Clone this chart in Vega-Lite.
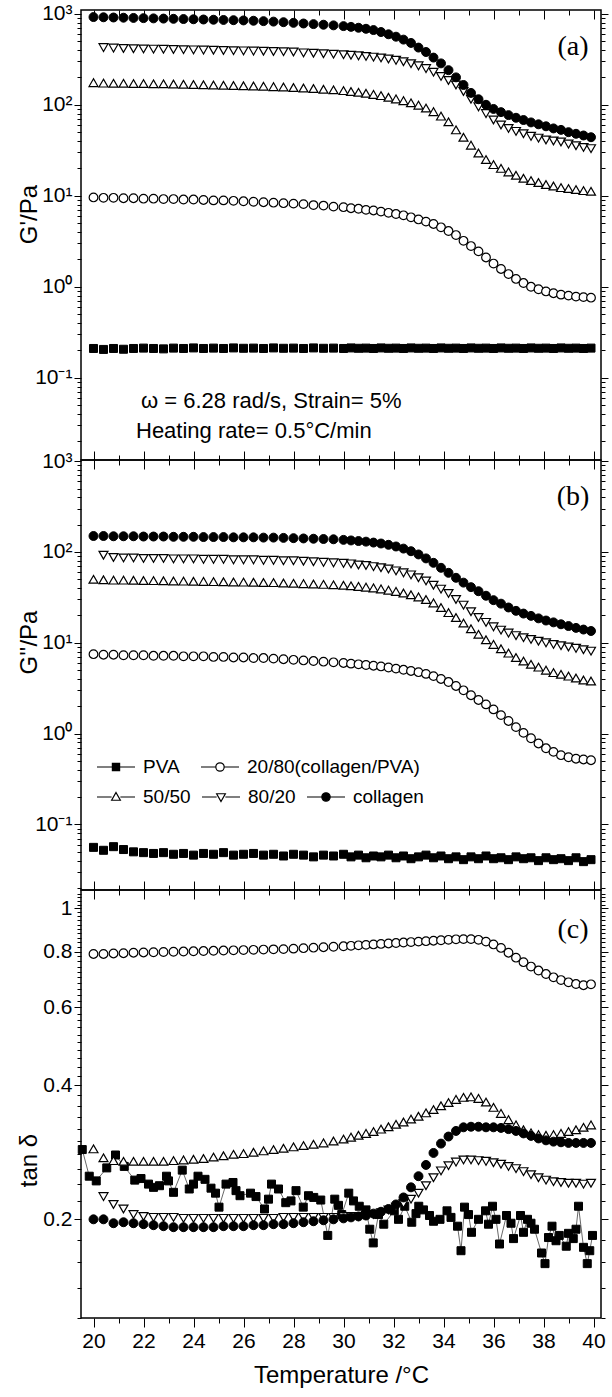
{
"$schema": "https://vega.github.io/schema/vega-lite/v6.json",
"background": "white",
"padding": {"left": 16, "top": 2, "right": 5, "bottom": 5},
"spacing": 0,
"bounds": "flush",
"config": {
  "view": {"stroke": "black", "strokeWidth": 1.5},
  "font": "Liberation Sans",
  "axis": {"domain": false, "grid": false, "tickColor": "black", "tickWidth": 1, "labelColor": "black", "labelFont": "Liberation Sans", "labelFontSize": 21, "labelPadding": 2, "labelOverlap": false, "labelFlush": false, "titleFont": "Liberation Sans", "titleFontSize": 24, "titleFontWeight": "normal", "titleColor": "black"}
},
"resolve": {"scale": {"shape": "independent", "fill": "independent", "stroke": "independent"}, "legend": {"shape": "independent", "fill": "independent", "stroke": "independent"}},
"datasets": {
  "aP": [{"t":20.0,"v":0.21},{"t":20.4,"v":0.205},{"t":20.8,"v":0.21},{"t":21.2,"v":0.206},{"t":21.6,"v":0.21},{"t":22.0,"v":0.212},{"t":22.4,"v":0.21},{"t":22.8,"v":0.208},{"t":23.2,"v":0.212},{"t":23.6,"v":0.21},{"t":24.0,"v":0.213},{"t":24.4,"v":0.21},{"t":24.8,"v":0.212},{"t":25.2,"v":0.21},{"t":25.6,"v":0.213},{"t":26.0,"v":0.211},{"t":26.4,"v":0.212},{"t":26.8,"v":0.21},{"t":27.2,"v":0.213},{"t":27.6,"v":0.211},{"t":28.0,"v":0.212},{"t":28.4,"v":0.21},{"t":28.8,"v":0.213},{"t":29.2,"v":0.211},{"t":29.6,"v":0.212},{"t":30.0,"v":0.21},{"t":30.3,"v":0.213},{"t":30.6,"v":0.211},{"t":30.9,"v":0.212},{"t":31.2,"v":0.21},{"t":31.5,"v":0.213},{"t":31.8,"v":0.211},{"t":32.1,"v":0.212},{"t":32.4,"v":0.21},{"t":32.7,"v":0.213},{"t":33.0,"v":0.211},{"t":33.3,"v":0.212},{"t":33.6,"v":0.21},{"t":33.9,"v":0.213},{"t":34.2,"v":0.211},{"t":34.5,"v":0.212},{"t":34.8,"v":0.21},{"t":35.1,"v":0.213},{"t":35.4,"v":0.211},{"t":35.7,"v":0.212},{"t":36.0,"v":0.21},{"t":36.3,"v":0.213},{"t":36.6,"v":0.211},{"t":36.9,"v":0.212},{"t":37.2,"v":0.21},{"t":37.5,"v":0.213},{"t":37.8,"v":0.211},{"t":38.1,"v":0.212},{"t":38.4,"v":0.21},{"t":38.7,"v":0.213},{"t":39.0,"v":0.211},{"t":39.3,"v":0.212},{"t":39.6,"v":0.21},{"t":39.9,"v":0.212}],
  "a2": [{"t":20.0,"v":9.6},{"t":20.4,"v":9.5},{"t":20.8,"v":9.5},{"t":21.2,"v":9.4},{"t":21.6,"v":9.4},{"t":22.0,"v":9.3},{"t":22.4,"v":9.3},{"t":22.8,"v":9.2},{"t":23.2,"v":9.2},{"t":23.6,"v":9.1},{"t":24.0,"v":9.1},{"t":24.4,"v":9.0},{"t":24.8,"v":8.9},{"t":25.2,"v":8.9},{"t":25.6,"v":8.8},{"t":26.0,"v":8.7},{"t":26.4,"v":8.6},{"t":26.8,"v":8.5},{"t":27.2,"v":8.4},{"t":27.6,"v":8.3},{"t":28.0,"v":8.2},{"t":28.4,"v":8.1},{"t":28.8,"v":7.9},{"t":29.2,"v":7.8},{"t":29.6,"v":7.6},{"t":30.0,"v":7.5},{"t":30.3,"v":7.3},{"t":30.6,"v":7.2},{"t":30.9,"v":7.0},{"t":31.2,"v":6.9},{"t":31.5,"v":6.7},{"t":31.8,"v":6.5},{"t":32.1,"v":6.3},{"t":32.4,"v":6.1},{"t":32.7,"v":5.8},{"t":33.0,"v":5.5},{"t":33.3,"v":5.2},{"t":33.6,"v":4.9},{"t":33.9,"v":4.5},{"t":34.2,"v":4.1},{"t":34.5,"v":3.7},{"t":34.8,"v":3.2},{"t":35.1,"v":2.8},{"t":35.4,"v":2.45},{"t":35.7,"v":2.1},{"t":36.0,"v":1.8},{"t":36.3,"v":1.57},{"t":36.6,"v":1.38},{"t":36.9,"v":1.22},{"t":37.2,"v":1.1},{"t":37.5,"v":1.0},{"t":37.8,"v":0.94},{"t":38.1,"v":0.89},{"t":38.4,"v":0.85},{"t":38.7,"v":0.82},{"t":39.0,"v":0.8},{"t":39.3,"v":0.78},{"t":39.6,"v":0.77},{"t":39.9,"v":0.76}],
  "a5": [{"t":20.0,"v":175},{"t":20.4,"v":173},{"t":20.8,"v":172},{"t":21.2,"v":172},{"t":21.6,"v":171},{"t":22.0,"v":171},{"t":22.4,"v":170},{"t":22.8,"v":170},{"t":23.2,"v":169},{"t":23.6,"v":168},{"t":24.0,"v":167},{"t":24.4,"v":166},{"t":24.8,"v":165},{"t":25.2,"v":164},{"t":25.6,"v":163},{"t":26.0,"v":162},{"t":26.4,"v":161},{"t":26.8,"v":160},{"t":27.2,"v":158},{"t":27.6,"v":157},{"t":28.0,"v":155},{"t":28.4,"v":153},{"t":28.8,"v":151},{"t":29.2,"v":148},{"t":29.6,"v":146},{"t":30.0,"v":143},{"t":30.3,"v":140},{"t":30.6,"v":137},{"t":30.9,"v":134},{"t":31.2,"v":130},{"t":31.5,"v":126},{"t":31.8,"v":121},{"t":32.1,"v":116},{"t":32.4,"v":111},{"t":32.7,"v":105},{"t":33.0,"v":99},{"t":33.3,"v":92},{"t":33.6,"v":84},{"t":33.9,"v":75},{"t":34.2,"v":65},{"t":34.5,"v":53},{"t":34.8,"v":44},{"t":35.1,"v":36},{"t":35.4,"v":29.5},{"t":35.7,"v":25},{"t":36.0,"v":22},{"t":36.3,"v":20},{"t":36.6,"v":18.3},{"t":36.9,"v":16.8},{"t":37.2,"v":15.6},{"t":37.5,"v":14.7},{"t":37.8,"v":14},{"t":38.1,"v":13.3},{"t":38.4,"v":12.8},{"t":38.7,"v":12.3},{"t":39.0,"v":12},{"t":39.3,"v":11.7},{"t":39.6,"v":11.4},{"t":39.9,"v":11.2}],
  "a8": [{"t":20.4,"v":425},{"t":20.8,"v":420},{"t":21.2,"v":415},{"t":21.6,"v":413},{"t":22.0,"v":411},{"t":22.4,"v":409},{"t":22.8,"v":407},{"t":23.2,"v":405},{"t":23.6,"v":403},{"t":24.0,"v":401},{"t":24.4,"v":399},{"t":24.8,"v":397},{"t":25.2,"v":395},{"t":25.6,"v":393},{"t":26.0,"v":391},{"t":26.4,"v":389},{"t":26.8,"v":387},{"t":27.2,"v":385},{"t":27.6,"v":383},{"t":28.0,"v":380},{"t":28.4,"v":372},{"t":28.8,"v":368},{"t":29.2,"v":364},{"t":29.6,"v":360},{"t":30.0,"v":355},{"t":30.3,"v":350},{"t":30.6,"v":345},{"t":30.9,"v":340},{"t":31.2,"v":334},{"t":31.5,"v":327},{"t":31.8,"v":318},{"t":32.1,"v":308},{"t":32.4,"v":297},{"t":32.7,"v":283},{"t":33.0,"v":268},{"t":33.3,"v":250},{"t":33.6,"v":228},{"t":33.9,"v":205},{"t":34.2,"v":185},{"t":34.5,"v":165},{"t":34.8,"v":140},{"t":35.1,"v":115},{"t":35.4,"v":95},{"t":35.7,"v":80},{"t":36.0,"v":68},{"t":36.3,"v":60},{"t":36.6,"v":55},{"t":36.9,"v":51},{"t":37.2,"v":48},{"t":37.5,"v":45},{"t":37.8,"v":43},{"t":38.1,"v":41},{"t":38.4,"v":40},{"t":38.7,"v":39},{"t":39.0,"v":37},{"t":39.3,"v":35.5},{"t":39.6,"v":34},{"t":39.9,"v":33}],
  "aC": [{"t":20.0,"v":920},{"t":20.4,"v":915},{"t":20.8,"v":910},{"t":21.2,"v":905},{"t":21.6,"v":900},{"t":22.0,"v":895},{"t":22.4,"v":890},{"t":22.8,"v":885},{"t":23.2,"v":880},{"t":23.6,"v":875},{"t":24.0,"v":870},{"t":24.4,"v":865},{"t":24.8,"v":860},{"t":25.2,"v":855},{"t":25.6,"v":850},{"t":26.0,"v":845},{"t":26.4,"v":838},{"t":26.8,"v":830},{"t":27.2,"v":820},{"t":27.6,"v":808},{"t":28.0,"v":795},{"t":28.4,"v":782},{"t":28.8,"v":770},{"t":29.2,"v":758},{"t":29.6,"v":746},{"t":30.0,"v":732},{"t":30.3,"v":718},{"t":30.6,"v":702},{"t":30.9,"v":684},{"t":31.2,"v":662},{"t":31.5,"v":630},{"t":31.8,"v":595},{"t":32.1,"v":560},{"t":32.4,"v":520},{"t":32.7,"v":478},{"t":33.0,"v":425},{"t":33.3,"v":380},{"t":33.6,"v":330},{"t":33.9,"v":285},{"t":34.2,"v":240},{"t":34.5,"v":200},{"t":34.8,"v":165},{"t":35.1,"v":135},{"t":35.4,"v":115},{"t":35.7,"v":100},{"t":36.0,"v":90},{"t":36.3,"v":83},{"t":36.6,"v":77},{"t":36.9,"v":72},{"t":37.2,"v":68},{"t":37.5,"v":64},{"t":37.8,"v":61},{"t":38.1,"v":58},{"t":38.4,"v":55},{"t":38.7,"v":53},{"t":39.0,"v":50},{"t":39.3,"v":48},{"t":39.6,"v":46},{"t":39.9,"v":44}],
  "bP": [{"t":20.0,"v":0.056},{"t":20.4,"v":0.052},{"t":20.8,"v":0.057},{"t":21.2,"v":0.053},{"t":21.6,"v":0.05},{"t":22.0,"v":0.049},{"t":22.4,"v":0.048},{"t":22.8,"v":0.049},{"t":23.2,"v":0.047},{"t":23.6,"v":0.048},{"t":24.0,"v":0.046},{"t":24.4,"v":0.048},{"t":24.8,"v":0.047},{"t":25.2,"v":0.049},{"t":25.6,"v":0.046},{"t":26.0,"v":0.047},{"t":26.4,"v":0.048},{"t":26.8,"v":0.046},{"t":27.2,"v":0.047},{"t":27.6,"v":0.045},{"t":28.0,"v":0.047},{"t":28.4,"v":0.046},{"t":28.8,"v":0.044},{"t":29.2,"v":0.046},{"t":29.6,"v":0.045},{"t":30.0,"v":0.047},{"t":30.3,"v":0.044},{"t":30.6,"v":0.046},{"t":30.9,"v":0.043},{"t":31.2,"v":0.045},{"t":31.5,"v":0.044},{"t":31.8,"v":0.046},{"t":32.1,"v":0.043},{"t":32.4,"v":0.045},{"t":32.7,"v":0.042},{"t":33.0,"v":0.044},{"t":33.3,"v":0.046},{"t":33.6,"v":0.043},{"t":33.9,"v":0.045},{"t":34.2,"v":0.042},{"t":34.5,"v":0.044},{"t":34.8,"v":0.041},{"t":35.1,"v":0.044},{"t":35.4,"v":0.042},{"t":35.7,"v":0.045},{"t":36.0,"v":0.042},{"t":36.3,"v":0.043},{"t":36.6,"v":0.041},{"t":36.9,"v":0.044},{"t":37.2,"v":0.042},{"t":37.5,"v":0.043},{"t":37.8,"v":0.04},{"t":38.1,"v":0.043},{"t":38.4,"v":0.041},{"t":38.7,"v":0.042},{"t":39.0,"v":0.04},{"t":39.3,"v":0.043},{"t":39.6,"v":0.039},{"t":39.9,"v":0.041}],
  "b2": [{"t":20.0,"v":7.5},{"t":20.4,"v":7.4},{"t":20.8,"v":7.4},{"t":21.2,"v":7.3},{"t":21.6,"v":7.3},{"t":22.0,"v":7.3},{"t":22.4,"v":7.2},{"t":22.8,"v":7.2},{"t":23.2,"v":7.2},{"t":23.6,"v":7.1},{"t":24.0,"v":7.1},{"t":24.4,"v":7.1},{"t":24.8,"v":7.0},{"t":25.2,"v":7.0},{"t":25.6,"v":6.9},{"t":26.0,"v":6.9},{"t":26.4,"v":6.8},{"t":26.8,"v":6.8},{"t":27.2,"v":6.7},{"t":27.6,"v":6.6},{"t":28.0,"v":6.5},{"t":28.4,"v":6.4},{"t":28.8,"v":6.3},{"t":29.2,"v":6.2},{"t":29.6,"v":6.1},{"t":30.0,"v":6.0},{"t":30.3,"v":5.9},{"t":30.6,"v":5.8},{"t":30.9,"v":5.7},{"t":31.2,"v":5.6},{"t":31.5,"v":5.5},{"t":31.8,"v":5.35},{"t":32.1,"v":5.2},{"t":32.4,"v":5.05},{"t":32.7,"v":4.9},{"t":33.0,"v":4.75},{"t":33.3,"v":4.55},{"t":33.6,"v":4.3},{"t":33.9,"v":4.0},{"t":34.2,"v":3.7},{"t":34.5,"v":3.35},{"t":34.8,"v":3.0},{"t":35.1,"v":2.65},{"t":35.4,"v":2.35},{"t":35.7,"v":2.1},{"t":36.0,"v":1.85},{"t":36.3,"v":1.6},{"t":36.6,"v":1.38},{"t":36.9,"v":1.18},{"t":37.2,"v":1.02},{"t":37.5,"v":0.89},{"t":37.8,"v":0.78},{"t":38.1,"v":0.69},{"t":38.4,"v":0.63},{"t":38.7,"v":0.58},{"t":39.0,"v":0.55},{"t":39.3,"v":0.53},{"t":39.6,"v":0.52},{"t":39.9,"v":0.51}],
  "b5": [{"t":20.0,"v":50},{"t":20.4,"v":49.5},{"t":20.8,"v":49},{"t":21.2,"v":49},{"t":21.6,"v":48.8},{"t":22.0,"v":48.6},{"t":22.4,"v":48.4},{"t":22.8,"v":48.2},{"t":23.2,"v":48},{"t":23.6,"v":47.8},{"t":24.0,"v":47.6},{"t":24.4,"v":47.4},{"t":24.8,"v":47.2},{"t":25.2,"v":47},{"t":25.6,"v":46.8},{"t":26.0,"v":46.6},{"t":26.4,"v":46.4},{"t":26.8,"v":46.2},{"t":27.2,"v":46},{"t":27.6,"v":45.6},{"t":28.0,"v":45.2},{"t":28.4,"v":44.8},{"t":28.8,"v":44.4},{"t":29.2,"v":44},{"t":29.6,"v":43.5},{"t":30.0,"v":43},{"t":30.3,"v":42.4},{"t":30.6,"v":41.8},{"t":30.9,"v":41},{"t":31.2,"v":40.2},{"t":31.5,"v":39.2},{"t":31.8,"v":38},{"t":32.1,"v":36.8},{"t":32.4,"v":35.4},{"t":32.7,"v":33.8},{"t":33.0,"v":32},{"t":33.3,"v":30},{"t":33.6,"v":27.5},{"t":33.9,"v":24.5},{"t":34.2,"v":21.5},{"t":34.5,"v":19},{"t":34.8,"v":16.5},{"t":35.1,"v":14.3},{"t":35.4,"v":12.4},{"t":35.7,"v":10.8},{"t":36.0,"v":9.6},{"t":36.3,"v":8.6},{"t":36.6,"v":7.7},{"t":36.9,"v":6.9},{"t":37.2,"v":6.3},{"t":37.5,"v":5.8},{"t":37.8,"v":5.4},{"t":38.1,"v":5},{"t":38.4,"v":4.7},{"t":38.7,"v":4.5},{"t":39.0,"v":4.3},{"t":39.3,"v":4.1},{"t":39.6,"v":3.9},{"t":39.9,"v":3.8}],
  "b8": [{"t":20.4,"v":92},{"t":20.8,"v":87},{"t":21.2,"v":86},{"t":21.6,"v":86},{"t":22.0,"v":85},{"t":22.4,"v":85},{"t":22.8,"v":85},{"t":23.2,"v":84},{"t":23.6,"v":84},{"t":24.0,"v":84},{"t":24.4,"v":83},{"t":24.8,"v":83},{"t":25.2,"v":83},{"t":25.6,"v":82},{"t":26.0,"v":82},{"t":26.4,"v":82},{"t":26.8,"v":81},{"t":27.2,"v":81},{"t":27.6,"v":80},{"t":28.0,"v":80},{"t":28.4,"v":79},{"t":28.8,"v":78},{"t":29.2,"v":77},{"t":29.6,"v":76},{"t":30.0,"v":75},{"t":30.3,"v":74},{"t":30.6,"v":72},{"t":30.9,"v":71},{"t":31.2,"v":69},{"t":31.5,"v":67},{"t":31.8,"v":65},{"t":32.1,"v":62},{"t":32.4,"v":59},{"t":32.7,"v":56},{"t":33.0,"v":52},{"t":33.3,"v":48},{"t":33.6,"v":43},{"t":33.9,"v":39},{"t":34.2,"v":35},{"t":34.5,"v":30},{"t":34.8,"v":26},{"t":35.1,"v":22},{"t":35.4,"v":19},{"t":35.7,"v":16.8},{"t":36.0,"v":15},{"t":36.3,"v":13.8},{"t":36.6,"v":12.8},{"t":36.9,"v":12},{"t":37.2,"v":11.4},{"t":37.5,"v":10.9},{"t":37.8,"v":10.4},{"t":38.1,"v":10},{"t":38.4,"v":9.6},{"t":38.7,"v":9.3},{"t":39.0,"v":9},{"t":39.3,"v":8.7},{"t":39.6,"v":8.4},{"t":39.9,"v":8.1}],
  "bC": [{"t":20.0,"v":150},{"t":20.4,"v":150},{"t":20.8,"v":149},{"t":21.2,"v":149},{"t":21.6,"v":149},{"t":22.0,"v":148},{"t":22.4,"v":148},{"t":22.8,"v":148},{"t":23.2,"v":147},{"t":23.6,"v":147},{"t":24.0,"v":147},{"t":24.4,"v":146},{"t":24.8,"v":146},{"t":25.2,"v":146},{"t":25.6,"v":145},{"t":26.0,"v":145},{"t":26.4,"v":145},{"t":26.8,"v":144},{"t":27.2,"v":144},{"t":27.6,"v":143},{"t":28.0,"v":142},{"t":28.4,"v":141},{"t":28.8,"v":140},{"t":29.2,"v":139},{"t":29.6,"v":138},{"t":30.0,"v":136},{"t":30.3,"v":134},{"t":30.6,"v":132},{"t":30.9,"v":130},{"t":31.2,"v":127},{"t":31.5,"v":124},{"t":31.8,"v":120},{"t":32.1,"v":115},{"t":32.4,"v":109},{"t":32.7,"v":102},{"t":33.0,"v":94},{"t":33.3,"v":85},{"t":33.6,"v":76},{"t":33.9,"v":67},{"t":34.2,"v":59},{"t":34.5,"v":52},{"t":34.8,"v":46},{"t":35.1,"v":41},{"t":35.4,"v":37},{"t":35.7,"v":33},{"t":36.0,"v":29.5},{"t":36.3,"v":27},{"t":36.6,"v":24.5},{"t":36.9,"v":22.5},{"t":37.2,"v":21},{"t":37.5,"v":19.8},{"t":37.8,"v":18.6},{"t":38.1,"v":17.6},{"t":38.4,"v":16.8},{"t":38.7,"v":16},{"t":39.0,"v":15.3},{"t":39.3,"v":14.6},{"t":39.6,"v":14},{"t":39.9,"v":13.5}],
  "cP": [{"t":19.55,"v":0.287},{"t":19.83,"v":0.25},{"t":20.11,"v":0.244},{"t":20.53,"v":0.261},{"t":20.88,"v":0.279},{"t":21.23,"v":0.263},{"t":21.65,"v":0.245},{"t":21.9,"v":0.247},{"t":22.2,"v":0.24},{"t":22.4,"v":0.236},{"t":22.64,"v":0.238},{"t":22.92,"v":0.25},{"t":23.0,"v":0.244},{"t":23.2,"v":0.23},{"t":23.55,"v":0.258},{"t":23.83,"v":0.234},{"t":24.0,"v":0.24},{"t":24.18,"v":0.25},{"t":24.46,"v":0.246},{"t":24.7,"v":0.235},{"t":24.88,"v":0.229},{"t":25.02,"v":0.213},{"t":25.3,"v":0.24},{"t":25.58,"v":0.242},{"t":25.7,"v":0.232},{"t":25.86,"v":0.226},{"t":26.28,"v":0.229},{"t":26.5,"v":0.225},{"t":26.84,"v":0.211},{"t":27.0,"v":0.222},{"t":27.12,"v":0.24},{"t":27.4,"v":0.234},{"t":27.69,"v":0.218},{"t":27.9,"v":0.22},{"t":28.1,"v":0.232},{"t":28.39,"v":0.213},{"t":28.6,"v":0.226},{"t":28.81,"v":0.224},{"t":29.09,"v":0.221},{"t":29.37,"v":0.184},{"t":29.65,"v":0.222},{"t":29.8,"v":0.215},{"t":29.93,"v":0.205},{"t":30.21,"v":0.229},{"t":30.4,"v":0.22},{"t":30.63,"v":0.214},{"t":30.9,"v":0.21},{"t":31.05,"v":0.19},{"t":31.19,"v":0.177},{"t":31.4,"v":0.205},{"t":31.61,"v":0.195},{"t":32.03,"v":0.209},{"t":32.2,"v":0.2},{"t":32.45,"v":0.214},{"t":32.73,"v":0.197},{"t":32.9,"v":0.206},{"t":33.01,"v":0.214},{"t":33.2,"v":0.21},{"t":33.44,"v":0.204},{"t":33.6,"v":0.198},{"t":33.86,"v":0.2},{"t":34.14,"v":0.209},{"t":34.3,"v":0.202},{"t":34.56,"v":0.193},{"t":34.7,"v":0.17},{"t":34.84,"v":0.213},{"t":35.0,"v":0.205},{"t":35.12,"v":0.187},{"t":35.4,"v":0.2},{"t":35.68,"v":0.209},{"t":35.8,"v":0.195},{"t":35.96,"v":0.214},{"t":36.1,"v":0.2},{"t":36.24,"v":0.176},{"t":36.52,"v":0.204},{"t":36.7,"v":0.196},{"t":36.8,"v":0.181},{"t":37.08,"v":0.204},{"t":37.2,"v":0.187},{"t":37.36,"v":0.2},{"t":37.5,"v":0.196},{"t":37.64,"v":0.19},{"t":37.92,"v":0.168},{"t":38.06,"v":0.159},{"t":38.2,"v":0.182},{"t":38.34,"v":0.193},{"t":38.5,"v":0.179},{"t":38.63,"v":0.184},{"t":38.91,"v":0.174},{"t":39.0,"v":0.186},{"t":39.19,"v":0.181},{"t":39.3,"v":0.19},{"t":39.4,"v":0.214},{"t":39.6,"v":0.173},{"t":39.75,"v":0.159},{"t":39.85,"v":0.17},{"t":39.96,"v":0.184}],
  "c2": [{"t":20.0,"v":0.79},{"t":20.4,"v":0.79},{"t":20.8,"v":0.792},{"t":21.2,"v":0.793},{"t":21.6,"v":0.795},{"t":22.0,"v":0.796},{"t":22.4,"v":0.797},{"t":22.8,"v":0.798},{"t":23.2,"v":0.799},{"t":23.6,"v":0.8},{"t":24.0,"v":0.801},{"t":24.4,"v":0.802},{"t":24.8,"v":0.803},{"t":25.2,"v":0.804},{"t":25.6,"v":0.805},{"t":26.0,"v":0.806},{"t":26.4,"v":0.807},{"t":26.8,"v":0.808},{"t":27.2,"v":0.809},{"t":27.6,"v":0.81},{"t":28.0,"v":0.812},{"t":28.4,"v":0.814},{"t":28.8,"v":0.816},{"t":29.2,"v":0.818},{"t":29.6,"v":0.82},{"t":30.0,"v":0.822},{"t":30.3,"v":0.824},{"t":30.6,"v":0.826},{"t":30.9,"v":0.828},{"t":31.2,"v":0.83},{"t":31.5,"v":0.832},{"t":31.8,"v":0.834},{"t":32.1,"v":0.836},{"t":32.4,"v":0.838},{"t":32.7,"v":0.84},{"t":33.0,"v":0.842},{"t":33.3,"v":0.844},{"t":33.6,"v":0.846},{"t":33.9,"v":0.848},{"t":34.2,"v":0.85},{"t":34.5,"v":0.852},{"t":34.8,"v":0.853},{"t":35.1,"v":0.853},{"t":35.4,"v":0.85},{"t":35.7,"v":0.842},{"t":36.0,"v":0.83},{"t":36.3,"v":0.815},{"t":36.6,"v":0.795},{"t":36.9,"v":0.775},{"t":37.2,"v":0.757},{"t":37.5,"v":0.74},{"t":37.8,"v":0.725},{"t":38.1,"v":0.712},{"t":38.4,"v":0.7},{"t":38.7,"v":0.69},{"t":39.0,"v":0.682},{"t":39.3,"v":0.676},{"t":39.6,"v":0.672},{"t":39.9,"v":0.675}],
  "c5": [{"t":20.0,"v":0.288},{"t":20.4,"v":0.275},{"t":20.8,"v":0.271},{"t":21.2,"v":0.27},{"t":21.6,"v":0.27},{"t":22.0,"v":0.27},{"t":22.4,"v":0.27},{"t":22.8,"v":0.27},{"t":23.2,"v":0.271},{"t":23.6,"v":0.272},{"t":24.0,"v":0.273},{"t":24.4,"v":0.274},{"t":24.8,"v":0.276},{"t":25.2,"v":0.278},{"t":25.6,"v":0.28},{"t":26.0,"v":0.281},{"t":26.4,"v":0.283},{"t":26.8,"v":0.285},{"t":27.2,"v":0.287},{"t":27.6,"v":0.289},{"t":28.0,"v":0.291},{"t":28.4,"v":0.293},{"t":28.8,"v":0.295},{"t":29.2,"v":0.297},{"t":29.6,"v":0.3},{"t":30.0,"v":0.303},{"t":30.3,"v":0.306},{"t":30.6,"v":0.309},{"t":30.9,"v":0.312},{"t":31.2,"v":0.315},{"t":31.5,"v":0.319},{"t":31.8,"v":0.323},{"t":32.1,"v":0.327},{"t":32.4,"v":0.331},{"t":32.7,"v":0.336},{"t":33.0,"v":0.341},{"t":33.3,"v":0.347},{"t":33.6,"v":0.353},{"t":33.9,"v":0.36},{"t":34.2,"v":0.366},{"t":34.5,"v":0.372},{"t":34.8,"v":0.376},{"t":35.1,"v":0.377},{"t":35.4,"v":0.374},{"t":35.7,"v":0.367},{"t":36.0,"v":0.357},{"t":36.3,"v":0.346},{"t":36.6,"v":0.335},{"t":36.9,"v":0.326},{"t":37.2,"v":0.318},{"t":37.5,"v":0.313},{"t":37.8,"v":0.31},{"t":38.1,"v":0.309},{"t":38.4,"v":0.31},{"t":38.7,"v":0.312},{"t":39.0,"v":0.315},{"t":39.3,"v":0.318},{"t":39.6,"v":0.322},{"t":39.9,"v":0.326}],
  "c8": [{"t":20.4,"v":0.225},{"t":20.8,"v":0.216},{"t":21.2,"v":0.211},{"t":21.6,"v":0.205},{"t":22.0,"v":0.203},{"t":22.4,"v":0.202},{"t":22.8,"v":0.202},{"t":23.2,"v":0.202},{"t":23.6,"v":0.201},{"t":24.0,"v":0.201},{"t":24.4,"v":0.201},{"t":24.8,"v":0.201},{"t":25.2,"v":0.201},{"t":25.6,"v":0.201},{"t":26.0,"v":0.201},{"t":26.4,"v":0.201},{"t":26.8,"v":0.201},{"t":27.2,"v":0.201},{"t":27.6,"v":0.202},{"t":28.0,"v":0.202},{"t":28.4,"v":0.202},{"t":28.8,"v":0.202},{"t":29.2,"v":0.202},{"t":29.6,"v":0.202},{"t":30.0,"v":0.203},{"t":30.3,"v":0.203},{"t":30.6,"v":0.203},{"t":30.9,"v":0.204},{"t":31.2,"v":0.205},{"t":31.5,"v":0.207},{"t":31.8,"v":0.21},{"t":32.1,"v":0.213},{"t":32.4,"v":0.217},{"t":32.7,"v":0.222},{"t":33.0,"v":0.229},{"t":33.3,"v":0.238},{"t":33.6,"v":0.248},{"t":33.9,"v":0.257},{"t":34.2,"v":0.264},{"t":34.5,"v":0.269},{"t":34.8,"v":0.272},{"t":35.1,"v":0.272},{"t":35.4,"v":0.271},{"t":35.7,"v":0.27},{"t":36.0,"v":0.268},{"t":36.3,"v":0.266},{"t":36.6,"v":0.263},{"t":36.9,"v":0.26},{"t":37.2,"v":0.256},{"t":37.5,"v":0.252},{"t":37.8,"v":0.248},{"t":38.1,"v":0.245},{"t":38.4,"v":0.243},{"t":38.7,"v":0.242},{"t":39.0,"v":0.241},{"t":39.3,"v":0.241},{"t":39.6,"v":0.24},{"t":39.9,"v":0.241}],
  "cC": [{"t":20.0,"v":0.2},{"t":20.4,"v":0.2},{"t":20.8,"v":0.196},{"t":21.2,"v":0.197},{"t":21.6,"v":0.196},{"t":22.0,"v":0.195},{"t":22.4,"v":0.194},{"t":22.8,"v":0.193},{"t":23.2,"v":0.192},{"t":23.6,"v":0.192},{"t":24.0,"v":0.192},{"t":24.4,"v":0.192},{"t":24.8,"v":0.192},{"t":25.2,"v":0.193},{"t":25.6,"v":0.193},{"t":26.0,"v":0.193},{"t":26.4,"v":0.194},{"t":26.8,"v":0.194},{"t":27.2,"v":0.195},{"t":27.6,"v":0.195},{"t":28.0,"v":0.196},{"t":28.4,"v":0.197},{"t":28.8,"v":0.198},{"t":29.2,"v":0.199},{"t":29.6,"v":0.2},{"t":30.0,"v":0.201},{"t":30.3,"v":0.202},{"t":30.6,"v":0.203},{"t":30.9,"v":0.204},{"t":31.2,"v":0.206},{"t":31.5,"v":0.208},{"t":31.8,"v":0.211},{"t":32.1,"v":0.216},{"t":32.4,"v":0.224},{"t":32.7,"v":0.236},{"t":33.0,"v":0.25},{"t":33.3,"v":0.265},{"t":33.6,"v":0.282},{"t":33.9,"v":0.296},{"t":34.2,"v":0.307},{"t":34.5,"v":0.316},{"t":34.8,"v":0.322},{"t":35.1,"v":0.323},{"t":35.4,"v":0.323},{"t":35.7,"v":0.322},{"t":36.0,"v":0.322},{"t":36.3,"v":0.321},{"t":36.6,"v":0.319},{"t":36.9,"v":0.316},{"t":37.2,"v":0.312},{"t":37.5,"v":0.308},{"t":37.8,"v":0.304},{"t":38.1,"v":0.301},{"t":38.4,"v":0.299},{"t":38.7,"v":0.298},{"t":39.0,"v":0.297},{"t":39.3,"v":0.297},{"t":39.6,"v":0.297},{"t":39.9,"v":0.297}]
},
"vconcat": [
 {
  "width": 520, "height": 450,
  "resolve": {"axis": {"x": "independent", "y": "independent"}},
  "layer": [
   {"data": {"name": "aP"}, "mark": {"type": "point", "shape": "square", "filled": true, "fill": "black", "stroke": "black", "strokeWidth": 1, "size": 64, "opacity": 1},
    "encoding": {
     "x": {"field": "t", "type": "quantitative", "scale": {"domain": [19.5, 40.3], "nice": false, "zero": false}, "axis": {"orient": "bottom", "values": [20,22,24,26,28,30,32,34,36,38,40], "labels": false, "title": null, "tickSize": 9}},
     "y": {"field": "v", "type": "quantitative", "scale": {"type": "log", "domain": [0.0125, 1100], "nice": false}, "axis": {"orient": "left", "values": [0.1,1,10,100,1000], "tickSize": 7, "labelExpr": "datum.value==1000?'10³':datum.value==100?'10²':datum.value==10?'10¹':datum.value==1?'10⁰':'10⁻¹'", "title": "G'/Pa", "titleX": -52, "titleY": 204, "titleAngle": 270, "titleBaseline": "middle", "titleAlign": "center"}}
    }},
   {"data": {"name": "a2"}, "mark": {"type": "point", "shape": "circle", "filled": true, "fill": "white", "stroke": "black", "strokeWidth": 1.2, "size": 75, "opacity": 1},
    "encoding": {
     "x": {"field": "t", "type": "quantitative", "scale": {"domain": [19.5, 40.3], "nice": false, "zero": false}, "axis": {"orient": "bottom", "values": [21,23,25,27,29,31,33,35,37,39], "labels": false, "title": null, "tickSize": 5}},
     "y": {"field": "v", "type": "quantitative", "scale": {"type": "log", "domain": [0.0125, 1100], "nice": false}, "axis": {"orient": "left", "values": [0.02,0.03,0.04,0.05,0.06,0.07,0.08,0.09,0.2,0.3,0.4,0.5,0.6,0.7,0.8,0.9,2,3,4,5,6,7,8,9,20,30,40,50,60,70,80,90,200,300,400,500,600,700,800,900], "labels": false, "title": null, "tickSize": 4}}
    }},
   {"data": {"name": "a5"}, "mark": {"type": "point", "shape": "triangle-up", "filled": true, "fill": "white", "stroke": "black", "strokeWidth": 1.2, "size": 80, "opacity": 1},
    "encoding": {
     "x": {"field": "t", "type": "quantitative", "scale": {"domain": [19.5, 40.3], "nice": false, "zero": false}, "axis": {"orient": "top", "values": [20,22,24,26,28,30,32,34,36,38,40], "labels": false, "title": null, "tickSize": -9}},
     "y": {"field": "v", "type": "quantitative", "scale": {"type": "log", "domain": [0.0125, 1100], "nice": false}, "axis": {"orient": "right", "values": [0.1,1,10,100,1000], "labels": false, "title": null, "tickSize": 7}}
    }},
   {"data": {"name": "a8"}, "mark": {"type": "point", "shape": "triangle-down", "filled": true, "fill": "white", "stroke": "black", "strokeWidth": 1.2, "size": 80, "opacity": 1},
    "encoding": {
     "x": {"field": "t", "type": "quantitative", "scale": {"domain": [19.5, 40.3], "nice": false, "zero": false}, "axis": {"orient": "top", "values": [21,23,25,27,29,31,33,35,37,39], "labels": false, "title": null, "tickSize": -5}},
     "y": {"field": "v", "type": "quantitative", "scale": {"type": "log", "domain": [0.0125, 1100], "nice": false}, "axis": {"orient": "right", "values": [0.02,0.03,0.04,0.05,0.06,0.07,0.08,0.09,0.2,0.3,0.4,0.5,0.6,0.7,0.8,0.9,2,3,4,5,6,7,8,9,20,30,40,50,60,70,80,90,200,300,400,500,600,700,800,900], "labels": false, "title": null, "tickSize": 4}}
    }},
   {"data": {"name": "aC"}, "mark": {"type": "point", "shape": "circle", "filled": true, "fill": "black", "stroke": "black", "strokeWidth": 1, "size": 80, "opacity": 1},
    "encoding": {
     "x": {"field": "t", "type": "quantitative", "scale": {"domain": [19.5, 40.3], "nice": false, "zero": false}, "axis": null},
     "y": {"field": "v", "type": "quantitative", "scale": {"type": "log", "domain": [0.0125, 1100], "nice": false}, "axis": null}
    }},
   {"data": {"values": [{}]}, "mark": {"type": "text", "text": "(a)", "font": "Liberation Serif", "fontSize": 28, "align": "center", "baseline": "middle", "color": "black"},
    "encoding": {"x": {"datum": 39.18, "type": "quantitative", "axis": null}, "y": {"datum": 431, "type": "quantitative", "axis": null}}},
   {"data": {"values": [{}]}, "mark": {"type": "text", "text": "ω = 6.28 rad/s, Strain= 5%", "font": "Liberation Sans", "fontSize": 22, "align": "left", "baseline": "middle", "color": "black"},
    "encoding": {"x": {"datum": 21.9, "type": "quantitative", "axis": null}, "y": {"datum": 0.0555, "type": "quantitative", "axis": null}}},
   {"data": {"values": [{}]}, "mark": {"type": "text", "text": "Heating rate= 0.5°C/min", "font": "Liberation Sans", "fontSize": 22, "align": "left", "baseline": "middle", "color": "black"},
    "encoding": {"x": {"datum": 21.7, "type": "quantitative", "axis": null}, "y": {"datum": 0.026, "type": "quantitative", "axis": null}}}
  ]
 },
 {
  "width": 520, "height": 430,
  "resolve": {"scale": {"shape": "independent", "fill": "independent", "stroke": "independent"}, "legend": {"shape": "independent", "fill": "independent", "stroke": "independent"}, "axis": {"x": "independent", "y": "independent"}},
  "layer": [
   {"data": {"name": "bP"}, "mark": {"type": "point", "shape": "square", "filled": true, "fill": "black", "stroke": "black", "strokeWidth": 1, "size": 64, "opacity": 1},
    "encoding": {
     "x": {"field": "t", "type": "quantitative", "scale": {"domain": [19.5, 40.3], "nice": false, "zero": false}, "axis": {"orient": "bottom", "values": [20,22,24,26,28,30,32,34,36,38,40], "labels": false, "title": null, "tickSize": 9}},
     "y": {"field": "v", "type": "quantitative", "scale": {"type": "log", "domain": [0.019, 1030], "nice": false}, "axis": {"orient": "left", "values": [0.1,1,10,100,1000], "tickSize": 7, "labelExpr": "datum.value==1000?'10³':datum.value==100?'10²':datum.value==10?'10¹':datum.value==1?'10⁰':'10⁻¹'", "title": "G''/Pa", "titleX": -52, "titleY": 182, "titleAngle": 270, "titleBaseline": "middle", "titleAlign": "center"}}
    }},
   {"data": {"name": "b2"}, "mark": {"type": "point", "shape": "circle", "filled": true, "fill": "white", "stroke": "black", "strokeWidth": 1.2, "size": 75, "opacity": 1},
    "encoding": {
     "x": {"field": "t", "type": "quantitative", "scale": {"domain": [19.5, 40.3], "nice": false, "zero": false}, "axis": {"orient": "bottom", "values": [21,23,25,27,29,31,33,35,37,39], "labels": false, "title": null, "tickSize": 5}},
     "y": {"field": "v", "type": "quantitative", "scale": {"type": "log", "domain": [0.019, 1030], "nice": false}, "axis": {"orient": "left", "values": [0.02,0.03,0.04,0.05,0.06,0.07,0.08,0.09,0.2,0.3,0.4,0.5,0.6,0.7,0.8,0.9,2,3,4,5,6,7,8,9,20,30,40,50,60,70,80,90,200,300,400,500,600,700,800,900], "labels": false, "title": null, "tickSize": 4}}
    }},
   {"data": {"name": "b5"}, "mark": {"type": "point", "shape": "triangle-up", "filled": true, "fill": "white", "stroke": "black", "strokeWidth": 1.2, "size": 80, "opacity": 1},
    "encoding": {
     "x": {"field": "t", "type": "quantitative", "scale": {"domain": [19.5, 40.3], "nice": false, "zero": false}, "axis": {"orient": "top", "values": [20,22,24,26,28,30,32,34,36,38,40], "labels": false, "title": null, "tickSize": 9}},
     "y": {"field": "v", "type": "quantitative", "scale": {"type": "log", "domain": [0.019, 1030], "nice": false}, "axis": {"orient": "right", "values": [0.1,1,10,100,1000], "labels": false, "title": null, "tickSize": 7}}
    }},
   {"data": {"name": "b8"}, "mark": {"type": "point", "shape": "triangle-down", "filled": true, "fill": "white", "stroke": "black", "strokeWidth": 1.2, "size": 80, "opacity": 1},
    "encoding": {
     "x": {"field": "t", "type": "quantitative", "scale": {"domain": [19.5, 40.3], "nice": false, "zero": false}, "axis": {"orient": "top", "values": [21,23,25,27,29,31,33,35,37,39], "labels": false, "title": null, "tickSize": 5}},
     "y": {"field": "v", "type": "quantitative", "scale": {"type": "log", "domain": [0.019, 1030], "nice": false}, "axis": {"orient": "right", "values": [0.02,0.03,0.04,0.05,0.06,0.07,0.08,0.09,0.2,0.3,0.4,0.5,0.6,0.7,0.8,0.9,2,3,4,5,6,7,8,9,20,30,40,50,60,70,80,90,200,300,400,500,600,700,800,900], "labels": false, "title": null, "tickSize": 4}}
    }},
   {"data": {"name": "bC"}, "mark": {"type": "point", "shape": "circle", "filled": true, "fill": "black", "stroke": "black", "strokeWidth": 1, "size": 80, "opacity": 1},
    "encoding": {
     "x": {"field": "t", "type": "quantitative", "scale": {"domain": [19.5, 40.3], "nice": false, "zero": false}, "axis": null},
     "y": {"field": "v", "type": "quantitative", "scale": {"type": "log", "domain": [0.019, 1030], "nice": false}, "axis": null}
    }},
   {"data": {"values": [{"s": "PVA"}, {"s": "20/80(collagen/PVA)"}]}, "mark": {"type": "point", "filled": true, "size": 0, "strokeWidth": 1, "opacity": 1},
    "encoding": {
     "x": {"datum": 30, "type": "quantitative", "axis": null},
     "y": {"datum": 1, "type": "quantitative", "axis": null},
     "shape": {"field": "s", "type": "nominal", "scale": {"domain": ["PVA", "20/80(collagen/PVA)"], "range": ["M-1,0H-0.19M0.19,0H1M-0.19,-0.19H0.19V0.19H-0.19Z", "M-1,0H-0.22M0.22,0H1M-0.22,0A0.22,0.22 0 1,1 0.22,0A0.22,0.22 0 1,1 -0.22,0Z"]},
      "legend": {"orient": "none", "legendX": 15, "legendY": 287, "direction": "horizontal", "title": null, "labelFont": "Liberation Sans", "labelFontSize": 19, "labelColor": "black", "labelLimit": 400, "symbolSize": 1444, "symbolStrokeWidth": 1.2, "symbolOpacity": 1, "labelOffset": 7, "columnPadding": 18}},
     "fill": {"field": "s", "type": "nominal", "scale": {"domain": ["PVA", "20/80(collagen/PVA)"], "range": ["black", "white"]},
      "legend": {"orient": "none", "legendX": 15, "legendY": 287, "direction": "horizontal", "title": null, "labelFont": "Liberation Sans", "labelFontSize": 19, "labelColor": "black", "labelLimit": 400, "symbolSize": 1444, "symbolStrokeWidth": 1.2, "symbolOpacity": 1, "labelOffset": 7, "columnPadding": 18}},
     "stroke": {"field": "s", "type": "nominal", "scale": {"domain": ["PVA", "20/80(collagen/PVA)"], "range": ["black", "black"]},
      "legend": {"orient": "none", "legendX": 15, "legendY": 287, "direction": "horizontal", "title": null, "labelFont": "Liberation Sans", "labelFontSize": 19, "labelColor": "black", "labelLimit": 400, "symbolSize": 1444, "symbolStrokeWidth": 1.2, "symbolOpacity": 1, "labelOffset": 7, "columnPadding": 18}}
    }},
   {"data": {"values": [{"s": "50/50"}, {"s": "80/20"}, {"s": "collagen"}]}, "mark": {"type": "point", "filled": true, "size": 0, "strokeWidth": 1, "opacity": 1},
    "encoding": {
     "x": {"datum": 30, "type": "quantitative", "axis": null},
     "y": {"datum": 1, "type": "quantitative", "axis": null},
     "shape": {"field": "s", "type": "nominal", "scale": {"domain": ["50/50", "80/20", "collagen"], "range": ["M-1,0H-0.23M0.23,0H1M0,-0.24L0.23,0.17L-0.23,0.17Z", "M-1,0H-0.23M0.23,0H1M0,0.24L0.23,-0.17L-0.23,-0.17Z", "M-1,0H-0.22M0.22,0H1M-0.22,0A0.22,0.22 0 1,1 0.22,0A0.22,0.22 0 1,1 -0.22,0Z"]},
      "legend": {"orient": "none", "legendX": 15, "legendY": 317, "direction": "horizontal", "title": null, "labelFont": "Liberation Sans", "labelFontSize": 19, "labelColor": "black", "labelLimit": 400, "symbolSize": 1444, "symbolStrokeWidth": 1.2, "symbolOpacity": 1, "labelOffset": 7, "columnPadding": 8}},
     "fill": {"field": "s", "type": "nominal", "scale": {"domain": ["50/50", "80/20", "collagen"], "range": ["white", "white", "black"]},
      "legend": {"orient": "none", "legendX": 15, "legendY": 317, "direction": "horizontal", "title": null, "labelFont": "Liberation Sans", "labelFontSize": 19, "labelColor": "black", "labelLimit": 400, "symbolSize": 1444, "symbolStrokeWidth": 1.2, "symbolOpacity": 1, "labelOffset": 7, "columnPadding": 8}},
     "stroke": {"field": "s", "type": "nominal", "scale": {"domain": ["50/50", "80/20", "collagen"], "range": ["black", "black", "black"]},
      "legend": {"orient": "none", "legendX": 15, "legendY": 317, "direction": "horizontal", "title": null, "labelFont": "Liberation Sans", "labelFontSize": 19, "labelColor": "black", "labelLimit": 400, "symbolSize": 1444, "symbolStrokeWidth": 1.2, "symbolOpacity": 1, "labelOffset": 7, "columnPadding": 8}}
    }},
   {"data": {"values": [{}]}, "mark": {"type": "text", "text": "(b)", "font": "Liberation Serif", "fontSize": 28, "align": "center", "baseline": "middle", "color": "black"},
    "encoding": {"x": {"datum": 39.18, "type": "quantitative", "axis": null}, "y": {"datum": 403, "type": "quantitative", "axis": null}}}
  ]
 },
 {
  "width": 520, "height": 428,
  "resolve": {"axis": {"x": "independent", "y": "independent"}},
  "layer": [
   {"data": {"name": "cP"}, "mark": {"type": "line", "color": "black", "strokeWidth": 0.6},
    "encoding": {
     "x": {"field": "t", "type": "quantitative", "scale": {"domain": [19.5, 40.3], "nice": false, "zero": false}, "axis": {"orient": "bottom", "values": [20,22,24,26,28,30,32,34,36,38,40], "tickSize": 9, "format": "d", "labelPadding": 3, "title": "Temperature /°C", "titlePadding": 12}},
     "y": {"field": "v", "type": "quantitative", "scale": {"type": "log", "domain": [0.12, 1.1], "nice": false}, "axis": {"orient": "left", "values": [0.2,0.4,0.6,0.8,1], "tickSize": 7, "labelExpr": "datum.value==1?'1':format(datum.value,'.1f')", "title": "tan δ", "titleX": -52, "titleY": 270, "titleAngle": 270, "titleBaseline": "middle", "titleAlign": "center"}}
    }},
   {"data": {"name": "cP"}, "mark": {"type": "point", "shape": "square", "filled": true, "fill": "black", "stroke": "black", "strokeWidth": 1, "size": 64, "opacity": 1},
    "encoding": {
     "x": {"field": "t", "type": "quantitative", "scale": {"domain": [19.5, 40.3], "nice": false, "zero": false}, "axis": {"orient": "bottom", "values": [21,23,25,27,29,31,33,35,37,39], "labels": false, "title": null, "tickSize": 5}},
     "y": {"field": "v", "type": "quantitative", "scale": {"type": "log", "domain": [0.12, 1.1], "nice": false}, "axis": {"orient": "left", "values": [0.12,0.14,0.16,0.18,0.22,0.24,0.26,0.28,0.3,0.32,0.34,0.36,0.38,0.42,0.44,0.46,0.48,0.5,0.52,0.54,0.56,0.58,0.62,0.64,0.66,0.68,0.7,0.72,0.74,0.76,0.78,0.82,0.84,0.86,0.88,0.9,0.92,0.94,0.96,0.98,1.02,1.04,1.06,1.08], "labels": false, "title": null, "tickSize": 4}}
    }},
   {"data": {"name": "c2"}, "mark": {"type": "point", "shape": "circle", "filled": true, "fill": "white", "stroke": "black", "strokeWidth": 1.2, "size": 75, "opacity": 1},
    "encoding": {
     "x": {"field": "t", "type": "quantitative", "scale": {"domain": [19.5, 40.3], "nice": false, "zero": false}, "axis": {"orient": "top", "values": [20,22,24,26,28,30,32,34,36,38,40], "labels": false, "title": null, "tickSize": 9}},
     "y": {"field": "v", "type": "quantitative", "scale": {"type": "log", "domain": [0.12, 1.1], "nice": false}, "axis": {"orient": "right", "values": [0.2,0.4,0.6,0.8,1], "labels": false, "title": null, "tickSize": 7}}
    }},
   {"data": {"name": "c5"}, "mark": {"type": "point", "shape": "triangle-up", "filled": true, "fill": "white", "stroke": "black", "strokeWidth": 1.2, "size": 80, "opacity": 1},
    "encoding": {
     "x": {"field": "t", "type": "quantitative", "scale": {"domain": [19.5, 40.3], "nice": false, "zero": false}, "axis": {"orient": "top", "values": [21,23,25,27,29,31,33,35,37,39], "labels": false, "title": null, "tickSize": 5}},
     "y": {"field": "v", "type": "quantitative", "scale": {"type": "log", "domain": [0.12, 1.1], "nice": false}, "axis": {"orient": "right", "values": [0.12,0.14,0.16,0.18,0.22,0.24,0.26,0.28,0.3,0.32,0.34,0.36,0.38,0.42,0.44,0.46,0.48,0.5,0.52,0.54,0.56,0.58,0.62,0.64,0.66,0.68,0.7,0.72,0.74,0.76,0.78,0.82,0.84,0.86,0.88,0.9,0.92,0.94,0.96,0.98,1.02,1.04,1.06,1.08], "labels": false, "title": null, "tickSize": 4}}
    }},
   {"data": {"name": "c8"}, "mark": {"type": "point", "shape": "triangle-down", "filled": true, "fill": "white", "stroke": "black", "strokeWidth": 1.2, "size": 80, "opacity": 1},
    "encoding": {
     "x": {"field": "t", "type": "quantitative", "scale": {"domain": [19.5, 40.3], "nice": false, "zero": false}, "axis": null},
     "y": {"field": "v", "type": "quantitative", "scale": {"type": "log", "domain": [0.12, 1.1], "nice": false}, "axis": null}
    }},
   {"data": {"name": "cC"}, "mark": {"type": "point", "shape": "circle", "filled": true, "fill": "black", "stroke": "black", "strokeWidth": 1, "size": 80, "opacity": 1},
    "encoding": {
     "x": {"field": "t", "type": "quantitative", "scale": {"domain": [19.5, 40.3], "nice": false, "zero": false}, "axis": null},
     "y": {"field": "v", "type": "quantitative", "scale": {"type": "log", "domain": [0.12, 1.1], "nice": false}, "axis": null}
    }},
   {"data": {"values": [{}]}, "mark": {"type": "text", "text": "(c)", "font": "Liberation Serif", "fontSize": 28, "align": "center", "baseline": "middle", "color": "black"},
    "encoding": {"x": {"datum": 39.18, "type": "quantitative", "axis": null}, "y": {"datum": 0.894, "type": "quantitative", "axis": null}}}
  ]
 }
]
}
